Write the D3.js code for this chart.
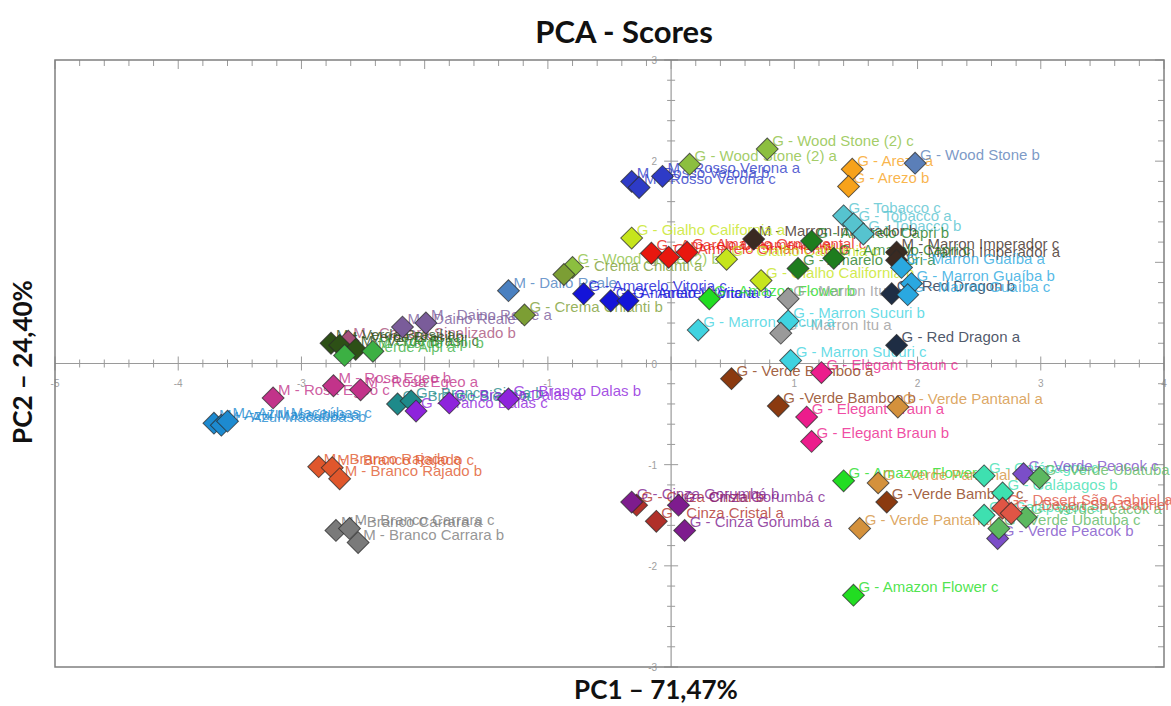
<!DOCTYPE html>
<html>
<head>
<meta charset="utf-8">
<script src="https://cdn.jsdelivr.net/npm/d3@7"></script>
<style>
  html, body { margin: 0; padding: 0; background: #fff; }
  svg { display: block; }
</style>
</head>
<body>
<svg id="chart" width="1171" height="706"></svg>
<script>
// Colour per stone group
const groupNames = [
  "G - Wood Stone (2)", "M - Rosso Verona", "G - Arezo", "G - Wood Stone", "G - Tobacco",
  "M - Marron Imperador", "G - Amarelo Ornamental", "G - Gialho California", "G - Amarelo Capri",
  "G - Crema Chianti", "M - Daino Reale", "M - Dalio Reale", "G - Amarelo Vitoria", "G - Amazon Flower",
  "G - Marron Itu", "G - Marron Sucuri", "G - Red Dragon", "G - Marron Guaíba", "G - Elegant Braun",
  "G - Verde Bamboo", "G - Verde Pantanal", "G - Galápagos", "G - Verde Peacok", "G - Verde Ubatuba",
  "G - Desert São Gabriel", "G - Cinza Cristal", "G - Cinza Gorumbá", "M - Rosa Egeo",
  "M - Azul Macaúbas", "M - Branco Rajado", "M - Branco Carrara", "G - Branco Siena",
  "G - Branco Dalas", "M - Verde Brasil", "M - Verde Alpi", "M - Carrara Sinalizado"
];
const groupColors = [
  "#8cbf3f", "#2e3bc7", "#f7a21b", "#5b7fb8", "#56c3cf",
  "#3a2a22", "#e8170f", "#c6e51c", "#1e7d1e",
  "#7c9e34", "#7a5c9a", "#4a80c0", "#1414d8", "#22dd22",
  "#9a9a9a", "#3fd3e0", "#1e2d44", "#2aa8e0", "#ec1c8c",
  "#8b3a10", "#d4913c", "#3ee0b0", "#7b4ec8", "#5cb860",
  "#e05545", "#b0302a", "#7e1c8e", "#c2338a",
  "#1d8ad0", "#e0572c", "#7a7a7a", "#1e8a8a",
  "#8e24dc", "#2d5016", "#3cb043", "#a8507a"
];

// Sample scores on the first two principal components
const sampleLabels = [
  "G - Wood Stone (2) c", "G - Wood Stone (2) a", "G - Wood Stone (2) b",
  "M - Rosso Verona a", "M - Rosso Verona b", "M - Rosso Verona c",
  "G - Arezo a", "G - Arezo b", "G - Wood Stone b",
  "G - Tobacco c", "G - Tobacco a", "G - Tobacco b",
  "M - Marron Imperador b", "M - Marron Imperador c", "M - Marron Imperador a",
  "G - Amarelo Ornamental a", "G - Amarelo Ornamental b", "G - Amarelo Ornamental c",
  "G - Gialho California a", "G - Gialho California c", "G - Gialho California b",
  "G - Amarelo Capri a", "G - Amarelo Capri c", "G - Amarelo Capri b",
  "G - Crema Chianti a", "G - Crema Chianti b",
  "M - Dalio Reale", "M - Daino Reale a", "M - Daino Reale b",
  "G - Amarelo Vitoria c", "G - Amarelo Vitoria a", "G - Amarelo Vitoria b",
  "G - Amazon Flower b", "G - Amazon Flower a", "G - Amazon Flower c",
  "G - Marron Itu b", "G - Marron Sucuri b", "G - Marron Itu a", "G - Marron Sucuri a", "G - Marron Sucuri c",
  "G - Red Dragon a", "G - Red Dragon b",
  "G - Marron Guaíba a", "G - Marron Guaíba b", "G - Marron Guaíba c",
  "G - Elegant Braun c", "G - Elegant Braun a", "G - Elegant Braun b",
  "G - Verde Bamboo a", "G -Verde Bamboo b", "G -Verde Bamboo c",
  "G - Verde Pantanal a", "G - Verde Pantanal b", "G - Verde Pantanal c",
  "G - Galápagos a", "G - Galápagos b", "G - Galápagos c",
  "G - Verde Peacok c", "G - Verde Peacok b",
  "G - Verde Ubatuba a", "G - Verde Peacok a", "G - Verde Ubatuba c",
  "G - Desert São Gabriel a", "G - Desert São Gabriel b",
  "G - Cinza Cristal b", "G - Cinza Cristal a", "G - Cinza Gorumbá c", "G - Cinza Gorumbá a", "G - Cinza Gorumbá b",
  "M - Rosa Egeo c", "M - Rosa Egeo b", "M - Rosa Egeo a",
  "M - Azul Macaúbas a", "M - Azul Macaúbas b", "M - Azul Macaúbas c",
  "M - Branco Rajado a", "M - Branco Rajado c", "M - Branco Rajado b",
  "M - Branco Carrara a", "M - Branco Carrara c", "M - Branco Carrara b",
  "G - Branco Siena a", "G - Branco Siena b",
  "G - Branco Dalas c", "G - Branco Dalas a", "G - Branco Dalas b",
  "M - Carrara Sinalizado b",
  "M - Verde Brasil a", "M - Verde Brasil b", "M - Verde Brasil c", "M - Verde Alpi a", "M - Verde Alpi b"
];
const sampleGroup = [
  0, 0, 0, 1, 1, 1, 2, 2, 3, 4, 4, 4, 5, 5, 5, 6, 6, 6, 7, 7, 7, 8, 8, 8, 9, 9,
  11, 10, 10, 12, 12, 12, 13, 13, 13, 14, 15, 14, 15, 15, 16, 16, 17, 17, 17,
  18, 18, 18, 19, 19, 19, 20, 20, 20, 21, 21, 21, 22, 22, 23, 23, 23, 24, 24,
  25, 25, 26, 26, 26, 27, 27, 27, 28, 28, 28, 29, 29, 29, 30, 30, 30, 31, 31,
  32, 32, 32, 35, 33, 33, 33, 34, 34
];
const pc1 = [
  0.78, 0.15, -0.80, -0.07, -0.32, -0.26, 1.47, 1.44, 1.98, 1.40, 1.48, 1.56,
  0.67, 1.83, 1.83, -0.16, -0.02, 0.13, -0.32, 0.45, 0.73, 1.03, 1.32, 1.14,
  -0.87, -1.19, -1.32, -1.99, -2.18, -0.71, -0.49, -0.35, 0.31, 1.40, 1.48,
  0.95, 0.95, 0.89, 0.22, 0.97, 1.83, 1.79, 1.87, 1.95, 1.92,
  1.22, 1.10, 1.14, 0.49, 0.87, 1.75, 1.84, 1.68, 1.53, 2.54, 2.69, 2.54,
  2.86, 2.65, 2.99, 2.88, 2.66, 2.69, 2.76,
  -0.28, -0.12, 0.06, 0.11, -0.32, -3.23, -2.74, -2.52, -3.71, -3.65, -3.60,
  -2.86, -2.75, -2.69, -2.72, -2.61, -2.54, -2.22, -2.11, -2.07, -1.80, -1.32,
  -2.62,
  -2.76, -2.69, -2.56, -2.65, -2.42
];
const pc2 = [
  2.12, 1.97, 0.95, 1.85, 1.80, 1.74, 1.92, 1.75, 1.98, 1.46, 1.38, 1.28,
  1.23, 1.10, 1.02, 1.09, 1.05, 1.10, 1.24, 1.03, 0.82, 0.94, 1.04, 1.21,
  0.88, 0.48, 0.72, 0.40, 0.36, 0.69, 0.62, 0.62, 0.64, -1.16, -2.29,
  0.64, 0.42, 0.30, 0.33, 0.03, 0.18, 0.69, 0.95, 0.79, 0.68,
  -0.09, -0.53, -0.77, -0.15, -0.42, -1.37, -0.43, -1.18, -1.63, -1.50, -1.28, -1.11,
  -1.09, -1.73, -1.13, -1.52, -1.63, -1.43, -1.48,
  -1.40, -1.56, -1.40, -1.65, -1.37, -0.34, -0.22, -0.26, -0.59, -0.61, -0.57,
  -1.02, -1.03, -1.14, -1.65, -1.63, -1.77, -0.40, -0.37, -0.47, -0.39, -0.35,
  0.22,
  0.20, 0.18, 0.14, 0.08, 0.12
];

const xDomain = [-5, 4];
const yDomain = [-3, 3];
const xTickValues = [-5, -4, -3, -2, -1, 1, 2, 3, 4];
const yTickValues = [-3, -2, -1, 0, 1, 2, 3];

const svg = d3.select("#chart");
const W = 1171, H = 706;
const plot = { left: 55, right: 1164, top: 60, bottom: 667 };

const x = d3.scaleLinear().domain(xDomain).range([plot.left, plot.right]);
const y = d3.scaleLinear().domain(yDomain).range([plot.bottom, plot.top]);

svg.append("rect").attr("width", W).attr("height", H).attr("fill", "#fff");

// Titles
const titleFont = "Lato, 'Open Sans', sans-serif";
svg.append("text")
  .attr("x", 624).attr("y", 43)
  .attr("text-anchor", "middle")
  .attr("font-family", titleFont)
  .attr("font-weight", 700).attr("font-size", 31)
  .attr("fill", "#111")
  .text("PCA - Scores");

svg.append("text")
  .attr("x", 656).attr("y", 699)
  .attr("text-anchor", "middle")
  .attr("font-family", titleFont)
  .attr("font-weight", 700).attr("font-size", 26)
  .attr("fill", "#111")
  .text("PC1 – 71,47%");

svg.append("text")
  .attr("transform", "translate(32,362) rotate(-90)")
  .attr("text-anchor", "middle")
  .attr("font-family", titleFont)
  .attr("font-weight", 700).attr("font-size", 26)
  .attr("fill", "#111")
  .text("PC2 – 24,40%");

const g = svg.append("g");
const axisColor = "#9a9a9a";

// Minor/major tick positions every 0.2
const xMinor = d3.range(xDomain[0], xDomain[1] + 1e-9, 0.2);
const yMinor = d3.range(yDomain[0], yDomain[1] + 1e-9, 0.2);
const isMajor = v => Math.abs(v - Math.round(v)) < 1e-6;

// Zero lines
g.append("line")
  .attr("x1", plot.left).attr("x2", plot.right)
  .attr("y1", y(0)).attr("y2", y(0))
  .attr("stroke", axisColor).attr("stroke-width", 1.2);
g.append("line")
  .attr("x1", x(0)).attr("x2", x(0))
  .attr("y1", plot.top).attr("y2", plot.bottom)
  .attr("stroke", axisColor).attr("stroke-width", 1.2);

// Ticks crossing the zero lines
g.selectAll(".xt").data(xMinor).join("line")
  .attr("x1", d => x(d)).attr("x2", d => x(d))
  .attr("y1", d => y(0) - (isMajor(d) ? 7 : 4))
  .attr("y2", d => y(0) + (isMajor(d) ? 7 : 4))
  .attr("stroke", axisColor).attr("stroke-width", 1);
g.selectAll(".yt").data(yMinor).join("line")
  .attr("y1", d => y(d)).attr("y2", d => y(d))
  .attr("x1", d => x(0) - (isMajor(d) ? 7 : 4))
  .attr("x2", d => x(0) + (isMajor(d) ? 7 : 4))
  .attr("stroke", axisColor).attr("stroke-width", 1);

// Ticks along the top and right borders
g.selectAll(".xtop").data(xMinor).join("line")
  .attr("x1", d => x(d)).attr("x2", d => x(d))
  .attr("y1", plot.top).attr("y2", d => plot.top + (isMajor(d) ? 9 : 6))
  .attr("stroke", axisColor).attr("stroke-width", 1);
g.selectAll(".yright").data(yMinor).join("line")
  .attr("y1", d => y(d)).attr("y2", d => y(d))
  .attr("x1", plot.right).attr("x2", d => plot.right - (isMajor(d) ? 9 : 6))
  .attr("stroke", axisColor).attr("stroke-width", 1);

// Tick labels
g.selectAll(".xl").data(xTickValues).join("text")
  .attr("x", d => x(d)).attr("y", y(0) + 23)
  .attr("text-anchor", "middle")
  .attr("font-family", "Liberation Sans, Arial, sans-serif")
  .attr("font-size", 10).attr("fill", "#a0a0a0")
  .text(d => d);
g.selectAll(".yl").data(yTickValues).join("text")
  .attr("x", x(0) - 14).attr("y", d => y(d) + 4)
  .attr("text-anchor", "end")
  .attr("font-family", "Liberation Sans, Arial, sans-serif")
  .attr("font-size", 10).attr("fill", "#a0a0a0")
  .text(d => d);

// Frame
g.append("rect")
  .attr("x", plot.left).attr("y", plot.top)
  .attr("width", plot.right - plot.left).attr("height", plot.bottom - plot.top)
  .attr("fill", "none").attr("stroke", "#7f7f7f").attr("stroke-width", 1.5);

const samples = sampleLabels.map((label, i) => ({
  label, px: pc1[i], py: pc2[i], color: groupColors[sampleGroup[i]]
}));

// Sample names (drawn under the markers)
g.append("g").selectAll("text").data(samples).join("text")
  .attr("x", d => x(d.px) + 5)
  .attr("y", d => y(d.py) - 3)
  .attr("font-family", "Liberation Sans, Arial, sans-serif")
  .attr("font-size", 15)
  .attr("fill", d => d.color)
  .attr("fill-opacity", 0.8)
  .text(d => d.label);

// Diamond markers
const diamond = d3.symbol().type(d3.symbolSquare).size(240);
g.append("g").selectAll("path").data(samples).join("path")
  .attr("d", diamond)
  .attr("transform", d => `translate(${x(d.px)},${y(d.py)}) rotate(45)`)
  .attr("fill", d => d.color)
  .attr("stroke", "#2b2b2b")
  .attr("stroke-opacity", 0.75)
  .attr("stroke-width", 1);
</script>
</body>
</html>
